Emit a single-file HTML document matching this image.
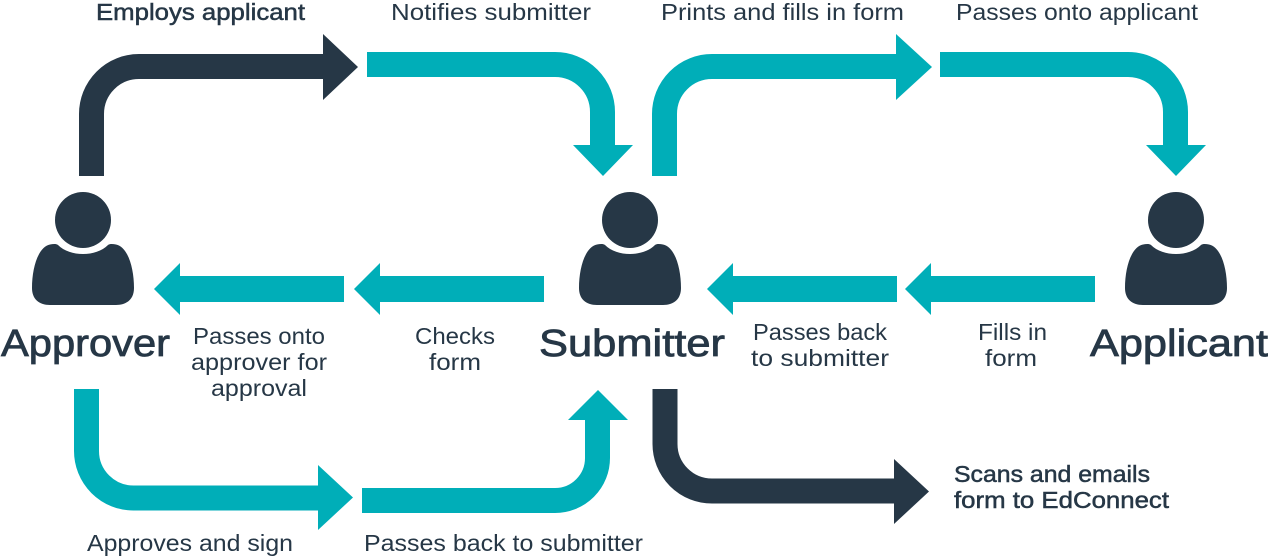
<!DOCTYPE html>
<html><head><meta charset="utf-8"><style>
html,body{margin:0;padding:0;background:#fff;width:1268px;height:558px;overflow:hidden}
svg{display:block}
text{font-family:"Liberation Sans",sans-serif;font-size:23px;fill:#263746}
.b{stroke:#263746;stroke-width:.5px}
.h{font-size:38px;stroke:#263746;stroke-width:.8px}
</style></head><body>
<svg width="1268" height="558" viewBox="0 0 1268 558" xmlns="http://www.w3.org/2000/svg">
<defs>
<g id="p" fill="#263746">
<circle cx="83" cy="220" r="28"/>
<path d="M58 245C70 257 96 257 108 245C110 243.500 113 244 116 244.500C128 247 134 268 134 288C134 299 127 305 116 305H50C39 305 32 299 32 288C32 268 38 247 50 244.500C53 244 56 243.500 58 245Z"/>
</g>
</defs>
<use href="#p"/><use href="#p" x="547"/><use href="#p" x="1093"/>

<g fill="none" stroke-width="25">
<path d="M91.500 176V114A47.500 47.500 0 0 1 139 66.500H325" stroke="#263746"/>
<path d="M367 64.500H555A47.500 47.500 0 0 1 602.500 112V147" stroke="#00aeb8"/>
<path d="M664.500 176V114A47.500 47.500 0 0 1 712 66.500H898" stroke="#00aeb8"/>
<path d="M940 64.500H1128A47.500 47.500 0 0 1 1175.500 112V147" stroke="#00aeb8"/>
<path d="M86.500 389V451A47 47 0 0 0 133.500 498H320" stroke="#00aeb8"/>
<path d="M362 500.500H555A42.500 42.500 0 0 0 597.500 458V418" stroke="#00aeb8"/>
<path d="M665 389V444A47 47 0 0 0 712 491H896" stroke="#263746"/>
</g>
<g fill="#263746">
<polygon points="323,34 358,67 323,100"/>
<polygon points="894,459 929,491.500 894,524"/>
</g>
<g fill="#00aeb8">
<polygon points="573,145 633,145 603,176"/>
<polygon points="896,34 932,67 896,100"/>
<polygon points="1146,145 1206,145 1176,176"/>
<polygon points="318,465 353,497.500 318,530"/>
<polygon points="568,420 628,420 598,390"/>
<path d="M344 276V302H180V315L154 289L180 263V276Z"/>
<path d="M544 276V302H380V315L354 289L380 263V276Z"/>
<path d="M897 276V302H733V315L707 289L733 263V276Z"/>
<path d="M1095 276V302H931V315L905 289L931 263V276Z"/>
</g>

<g>
<text class="b" x="96" y="20" textLength="209" lengthAdjust="spacingAndGlyphs">Employs applicant</text>
<text x="391" y="20" textLength="200" lengthAdjust="spacingAndGlyphs">Notifies submitter</text>
<text x="661" y="20" textLength="243" lengthAdjust="spacingAndGlyphs">Prints and fills in form</text>
<text x="956" y="20" textLength="242" lengthAdjust="spacingAndGlyphs">Passes onto applicant</text>
<text class="h" x="1" y="356" textLength="169" lengthAdjust="spacingAndGlyphs">Approver</text>
<text class="h" x="539" y="356" textLength="186" lengthAdjust="spacingAndGlyphs">Submitter</text>
<text class="h" x="1090" y="356" textLength="178" lengthAdjust="spacingAndGlyphs">Applicant</text>
<text x="193" y="344" textLength="132" lengthAdjust="spacingAndGlyphs">Passes onto</text>
<text x="191" y="370" textLength="136" lengthAdjust="spacingAndGlyphs">approver for</text>
<text x="211" y="396" textLength="96" lengthAdjust="spacingAndGlyphs">approval</text>
<text x="415" y="344" textLength="80" lengthAdjust="spacingAndGlyphs">Checks</text>
<text x="429" y="370" textLength="52" lengthAdjust="spacingAndGlyphs">form</text>
<text x="753" y="340" textLength="134" lengthAdjust="spacingAndGlyphs">Passes back</text>
<text x="751" y="366" textLength="138" lengthAdjust="spacingAndGlyphs">to submitter</text>
<text x="978" y="340" textLength="69" lengthAdjust="spacingAndGlyphs">Fills in</text>
<text x="985" y="366" textLength="52" lengthAdjust="spacingAndGlyphs">form</text>
<text x="87" y="551" textLength="206" lengthAdjust="spacingAndGlyphs">Approves and sign</text>
<text x="364" y="551" textLength="279" lengthAdjust="spacingAndGlyphs">Passes back to submitter</text>
<text class="b" x="954" y="482" textLength="196" lengthAdjust="spacingAndGlyphs">Scans and emails</text>
<text class="b" x="954" y="508" textLength="215" lengthAdjust="spacingAndGlyphs">form to EdConnect</text>
</g>
</svg>
</body></html>
